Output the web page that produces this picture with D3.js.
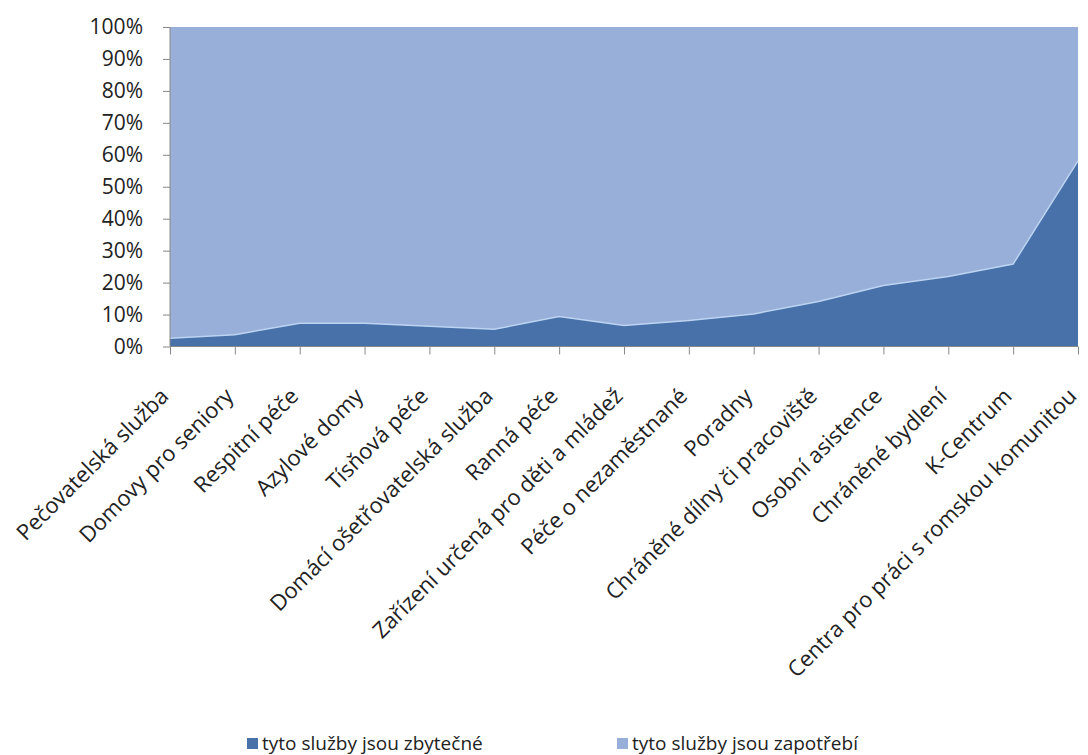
<!DOCTYPE html>
<html>
<head>
<meta charset="utf-8">
<script src="https://cdn.jsdelivr.net/npm/d3@7"></script>
<style>
  body { margin: 0; background: #fff; }
  text { font-family: "Open Sans", Lato, sans-serif; fill: #222; }
</style>
</head>
<body>
<script>
const categories = [
  "Pečovatelská služba", "Domovy pro seniory", "Respitní péče", "Azylové domy",
  "Tísňová péče", "Domácí ošetřovatelská služba", "Ranná péče",
  "Zařízení určená pro děti a mládež", "Péče o nezaměstnané", "Poradny",
  "Chráněné dílny či pracoviště", "Osobní asistence", "Chráněné bydlení",
  "K-Centrum", "Centra pro práci s romskou komunitou"
];
// share answering "useless", in percent
const zbytecne = [2.6, 3.7, 7.3, 7.3, 6.3, 5.4, 9.4, 6.6, 8.1, 10.2, 14.1, 19.1, 21.9, 25.8, 58.1];
const zapotrebi = zbytecne.map(v => 100 - v);
const series_names = ["tyto služby jsou zbytečné", "tyto služby jsou zapotřebí"];
const series_colors = ["#4771a8", "#98afd9"];
const y_ticks = [0, 10, 20, 30, 40, 50, 60, 70, 80, 90, 100];

const margin = {top: 27, right: 10, bottom: 408, left: 170};
const width = 1078 - margin.left;
const height = 346.5 - margin.top;

let svg = d3.select("body").append("svg")
        .attr("width", 1088)
        .attr("height", 755);

let g = svg.append("g")
        .attr("transform", "translate(" + margin.left + "," + margin.top + ")");

let x = d3.scalePoint()
        .domain(categories)
        .range([0, width]);
let y = d3.scaleLinear()
        .domain([0, 100])
        .range([height, 0]);

let rows = categories.map((c, i) => ({cat: c, a: zbytecne[i], b: zapotrebi[i]}));
let stack = d3.stack().keys(["a", "b"])(rows);

let area = d3.area()
        .x(d => x(d.data.cat))
        .y0(d => y(d[0]))
        .y1(d => y(d[1]));

g.selectAll(".layer")
  .data(stack)
  .enter().append("path")
  .attr("class", "layer")
  .attr("d", area)
  .attr("fill", (d, i) => series_colors[i]);

// light seam between the two layers
g.append("path")
  .datum(rows)
  .attr("d", d3.line().x(d => x(d.cat)).y(d => y(d.a)))
  .attr("fill", "none")
  .attr("stroke", "#bcd3f2")
  .attr("stroke-width", 1.5);

// y axis
let y_axis = d3.axisLeft(y)
        .tickValues(y_ticks)
        .tickSize(7)
        .tickPadding(20)
        .tickFormat(d => d + "%");
let ya = g.append("g").call(y_axis);
ya.select(".domain").attr("stroke", "#888").attr("d", "M0,0V" + height);
ya.selectAll(".tick line").attr("stroke", "#888");
ya.selectAll("text").style("font-size", "21px").attr("fill", "#222");

// x axis
let x_axis = d3.axisBottom(x)
        .tickSize(8)
        .tickFormat("");
let xa = g.append("g")
  .attr("transform", "translate(0," + height + ")")
  .call(x_axis);
xa.select(".domain").attr("stroke", "#888").attr("d", "M0,0H" + width);
xa.selectAll(".tick line").attr("stroke", "#888");

g.selectAll(".xlabel")
  .data(categories)
  .enter().append("text")
  .attr("class", "xlabel")
  .attr("text-anchor", "end")
  .attr("transform", d => "translate(" + x(d) + "," + (height + 51) + ") rotate(-45)")
  .style("font-size", "22px")
  .text(d => d);

// legend
let legend_x = [247, 617];
let legend = svg.append("g");
series_names.forEach((name, i) => {
  legend.append("rect")
    .attr("x", legend_x[i])
    .attr("y", 738)
    .attr("width", 11)
    .attr("height", 11)
    .attr("fill", series_colors[i]);
  legend.append("text")
    .attr("x", legend_x[i] + 15)
    .attr("y", 750)
    .style("font-size", "19px")
    .text(name);
});
</script>
</body>
</html>
